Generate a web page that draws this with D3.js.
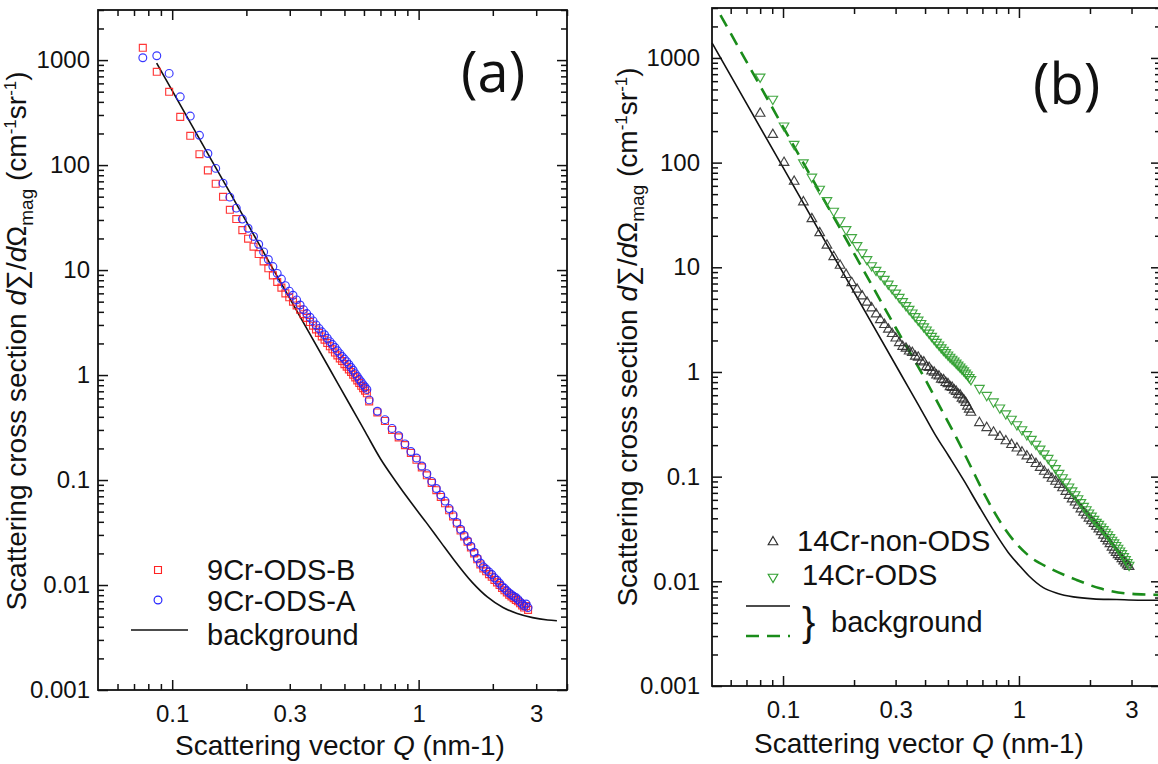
<!DOCTYPE html>
<html>
<head>
<meta charset="utf-8">
<script src="https://cdn.jsdelivr.net/npm/d3@7"></script>
<style>
  body { margin: 0; background: #fff; }
  svg { display: block; }
  text { font-family: "Liberation Sans", Arial, sans-serif; fill: #111; }
</style>
</head>
<body>
<div id="chart"></div>
<script>
// ---- panel (a): 9Cr ----
const qDense9 = [0.076, 0.0866, 0.0972, 0.1078, 0.1184, 0.129, 0.1396, 0.1502, 0.1608, 0.1714, 0.182, 0.1926, 0.2032, 0.2138, 0.2244, 0.235, 0.2456, 0.2562, 0.2668, 0.2774, 0.288, 0.2986, 0.3092, 0.3198, 0.3304, 0.341, 0.3516, 0.3622, 0.3728, 0.3834, 0.394, 0.4046, 0.4152, 0.4258, 0.4364, 0.447, 0.4576, 0.4682, 0.4788, 0.4894, 0.500, 0.5106, 0.5212, 0.5318, 0.5424, 0.553, 0.5636, 0.5742, 0.5848, 0.5954, 0.606, 0.6166];
const qSparse9 = [0.63, 0.68, 0.73, 0.78, 0.83, 0.88, 0.93, 0.98, 1.03, 1.08, 1.13, 1.18, 1.23, 1.28, 1.33, 1.38, 1.43, 1.48, 1.53, 1.58, 1.63, 1.68, 1.73, 1.78, 1.83, 1.88, 1.93, 1.98, 2.03, 2.08, 2.13, 2.18, 2.23, 2.28, 2.33, 2.38, 2.43, 2.48, 2.53, 2.58, 2.63, 2.68, 2.73, 2.78];

const odsBDense = [1310, 774, 499, 288, 190, 127, 89, 66.4, 49.9, 37.5, 30.6, 24.0, 19.9, 16.7, 14.2, 12.1, 10.4, 8.9, 7.7, 6.8, 6.0, 5.5, 5.0, 4.6, 4.2, 3.8, 3.5, 3.2, 2.95, 2.72, 2.52, 2.33, 2.17, 2.02, 1.88, 1.76, 1.64, 1.54, 1.44, 1.36, 1.27, 1.20, 1.13, 1.07, 1.01, 0.95, 0.89, 0.84, 0.79, 0.75, 0.71, 0.67];
const odsBSparse = [0.56, 0.44, 0.365, 0.300, 0.255, 0.215, 0.181, 0.156, 0.132, 0.111, 0.094, 0.080, 0.069, 0.060, 0.0515, 0.0450, 0.0385, 0.0330, 0.0290, 0.0258, 0.0228, 0.0200, 0.0176, 0.0157, 0.0144, 0.0135, 0.0127, 0.0120, 0.0112, 0.0106, 0.0100, 0.0094, 0.0089, 0.0085, 0.0081, 0.0078, 0.0075, 0.0072, 0.0070, 0.0067, 0.0064, 0.0061, 0.0063, 0.0058];

const odsADense = [1052, 1099, 747, 447, 293, 192, 129, 93, 67.3, 49.5, 38.9, 30.6, 25.0, 20.9, 17.6, 14.9, 12.6, 10.8, 9.3, 8.2, 7.1, 6.3, 5.75, 5.2, 4.65, 4.2, 3.85, 3.55, 3.28, 3.0, 2.78, 2.58, 2.42, 2.24, 2.08, 1.95, 1.83, 1.70, 1.60, 1.50, 1.42, 1.34, 1.26, 1.18, 1.11, 1.03, 0.97, 0.91, 0.86, 0.81, 0.77, 0.73];
const odsASparse = [0.58, 0.452, 0.376, 0.310, 0.264, 0.221, 0.187, 0.162, 0.136, 0.115, 0.097, 0.083, 0.072, 0.063, 0.0535, 0.0465, 0.0395, 0.0340, 0.0298, 0.0264, 0.0234, 0.0205, 0.0180, 0.0162, 0.0149, 0.0141, 0.0133, 0.0126, 0.0117, 0.0111, 0.0104, 0.0097, 0.0093, 0.0088, 0.0084, 0.0081, 0.0078, 0.0076, 0.0073, 0.0069, 0.0066, 0.0063, 0.0066, 0.0061];

const bg9Q = [0.0865, 0.12, 0.15, 0.20, 0.25, 0.30, 0.35, 0.435, 0.529, 0.609, 0.701, 0.808, 0.932, 1.073, 1.236, 1.38, 1.65, 1.90, 2.20, 2.51, 2.90, 3.34, 3.64];
const bg9I = [936, 240, 95.2, 28.9, 11.4, 5.37, 2.83, 1.148, 0.51, 0.284, 0.1586, 0.097, 0.061, 0.0395, 0.0252, 0.0178, 0.0106, 0.0077, 0.0061, 0.00535, 0.00489, 0.00465, 0.00457];

// ---- panel (b): 14Cr ----
const qDense14 = [0.080, 0.0905, 0.101, 0.1115, 0.122, 0.1325, 0.143, 0.1535, 0.164, 0.1745, 0.185, 0.1955, 0.206, 0.2165, 0.227, 0.2375, 0.248, 0.2585, 0.269, 0.2795, 0.290, 0.3005, 0.311, 0.3215, 0.332, 0.3425, 0.353, 0.3635, 0.374, 0.3845, 0.395, 0.4055, 0.416, 0.4265, 0.437, 0.4475, 0.458, 0.4685, 0.479, 0.4895, 0.500, 0.5105, 0.521, 0.5315, 0.542, 0.5525, 0.563, 0.5735, 0.584, 0.5945, 0.605, 0.6155, 0.626];
const qSparse14 = [0.68, 0.73, 0.78, 0.83, 0.88, 0.93, 0.98, 1.03, 1.08, 1.13, 1.18, 1.23, 1.28, 1.33, 1.38, 1.43, 1.48, 1.53, 1.58, 1.63, 1.68, 1.73, 1.78, 1.83, 1.88, 1.93, 1.98, 2.03, 2.08, 2.13, 2.18, 2.23, 2.28, 2.33, 2.38, 2.43, 2.48, 2.53, 2.58, 2.63, 2.68, 2.73, 2.78, 2.83, 2.88, 2.93];

const nonOdsDense = [295, 185, 100, 66, 42, 29, 21.3, 16.2, 12.6, 10.4, 8.5, 7.1, 6.15, 5.3, 4.62, 4.08, 3.57, 3.15, 2.83, 2.55, 2.32, 2.10, 1.90, 1.75, 1.68, 1.58, 1.53, 1.41, 1.38, 1.27, 1.24, 1.12, 1.10, 1.02, 0.99, 0.93, 0.91, 0.85, 0.84, 0.79, 0.77, 0.72, 0.71, 0.67, 0.65, 0.61, 0.60, 0.56, 0.54, 0.51, 0.47, 0.44, 0.41];
const nonOdsSparse = [0.327, 0.293, 0.265, 0.241, 0.219, 0.202, 0.187, 0.171, 0.157, 0.145, 0.133, 0.122, 0.112, 0.104, 0.096, 0.090, 0.084, 0.078, 0.072, 0.066, 0.061, 0.057, 0.053, 0.049, 0.0455, 0.0428, 0.0400, 0.0377, 0.0356, 0.0334, 0.0315, 0.0297, 0.0275, 0.0256, 0.0242, 0.0228, 0.0211, 0.0199, 0.0188, 0.0179, 0.0172, 0.0164, 0.0156, 0.0149, 0.0143, 0.0138];

const odsDense = [660, 405, 225, 150, 100, 73, 56, 43.5, 34.5, 28, 23, 19.3, 16.2, 13.8, 11.9, 10.4, 9.4, 8.55, 7.7, 6.95, 6.28, 5.70, 5.18, 4.72, 4.33, 3.98, 3.68, 3.40, 3.14, 2.92, 2.71, 2.53, 2.36, 2.20, 2.06, 1.93, 1.82, 1.71, 1.62, 1.54, 1.46, 1.39, 1.33, 1.28, 1.22, 1.17, 1.12, 1.07, 1.03, 0.98, 0.94, 0.89, 0.85];
const odsSparse = [0.70, 0.60, 0.52, 0.455, 0.40, 0.355, 0.315, 0.282, 0.253, 0.228, 0.205, 0.184, 0.166, 0.150, 0.135, 0.120, 0.108, 0.098, 0.089, 0.080, 0.0735, 0.0675, 0.0618, 0.0568, 0.0522, 0.0485, 0.0452, 0.0422, 0.0393, 0.0367, 0.0352, 0.0332, 0.0313, 0.0296, 0.0280, 0.0263, 0.0248, 0.0234, 0.0221, 0.0208, 0.0196, 0.0185, 0.0173, 0.0162, 0.0152, 0.0143];

const bg14SolidQ = [0.05, 0.10, 0.20, 0.3177, 0.38, 0.44, 0.506, 0.584, 0.674, 0.778, 0.899, 1.0, 1.1, 1.268, 1.45, 1.7, 2.065, 2.6, 3.2, 4.0];
const bg14SolidI = [1390, 90, 5.8, 0.93, 0.46, 0.255, 0.155, 0.092, 0.053, 0.031, 0.019, 0.0143, 0.0113, 0.0087, 0.0077, 0.0071, 0.0068, 0.0067, 0.0066, 0.0066];
const bg14DashQ = [0.0543, 0.10, 0.20, 0.30, 0.4006, 0.471, 0.5435, 0.627, 0.724, 0.836, 0.965, 1.113, 1.353, 1.756, 2.204, 2.86, 3.70, 4.0];
const bg14DashI = [2565, 220, 13.6, 2.66, 0.85, 0.43, 0.235, 0.123, 0.064, 0.0365, 0.0235, 0.0172, 0.0133, 0.0103, 0.00857, 0.00766, 0.00745, 0.0074];

// ---- shared axes ----
const qDomain = [0.05, 4];
const iDomain = [0.001, 3000];
const xTickLabels = [0.1, 0.3, 1, 3];
const yTickLabels = [0.001, 0.01, 0.1, 1, 10, 100, 1000];

const W = 1158, H = 764;
const svg = d3.select("#chart").append("svg").attr("width", W).attr("height", H);

const pts = (qs, vs) => qs.map((q, i) => ({ q, v: vs[i] }));
const isMajor = (d) => Math.abs(Math.log10(d) - Math.round(Math.log10(d))) < 1e-6;

const RED = "#f22", BLUE = "#22f", GREY = "#2c2c2c", GREEN = "#2f9f2f", DGREEN = "#1a8c1a";

const symSquare = d3.symbol().type(d3.symbolSquare).size(48);
const symCircle = d3.symbol().type(d3.symbolCircle).size(48);
const symTri = d3.symbol().type(d3.symbolTriangle).size(40);

function markerPath(kind) {
  if (kind === "square") return { d: symSquare(), rot: 0 };
  if (kind === "circle") return { d: symCircle(), rot: 0 };
  if (kind === "up") return { d: symTri(), rot: 0 };
  return { d: symTri(), rot: 180 };
}

function drawPanel(cfg) {
  const x = d3.scaleLog().domain(qDomain).range([cfg.left, cfg.right]);
  const y = d3.scaleLog().domain(iDomain).range([cfg.bottom, cfg.top]);
  const g = svg.append("g");

  // curves
  const line = d3.line().x((d) => x(d.q)).y((d) => y(d.v)).curve(d3.curveMonotoneX);
  cfg.lines.forEach((l) => {
    g.append("path")
      .attr("d", line(pts(l.q, l.v)))
      .attr("fill", "none")
      .attr("stroke", l.color)
      .attr("stroke-width", l.width)
      .attr("stroke-dasharray", l.dash || null);
  });

  // markers
  cfg.series.forEach((s) => {
    const m = markerPath(s.marker);
    g.append("g")
      .selectAll("path")
      .data(pts(s.q, s.v))
      .join("path")
      .attr("d", m.d)
      .attr("transform", (d) => `translate(${x(d.q)},${y(d.v)}) rotate(${m.rot})`)
      .attr("fill", "none")
      .attr("stroke", s.color)
      .attr("stroke-width", 1.15)
      .attr("opacity", 0.9);
  });

  // ticks on all four sides, pointing inward
  const sides = [
    { ax: d3.axisBottom(x), tr: `translate(0,${cfg.bottom})`, vals: x.ticks(), dim: "y2", sign: -1 },
    { ax: d3.axisTop(x), tr: `translate(0,${cfg.top})`, vals: x.ticks(), dim: "y2", sign: 1 },
    { ax: d3.axisLeft(y), tr: `translate(${cfg.left},0)`, vals: y.ticks(), dim: "x2", sign: 1 },
    { ax: d3.axisRight(y), tr: `translate(${cfg.right},0)`, vals: y.ticks(), dim: "x2", sign: -1 },
  ];
  sides.forEach((s) => {
    const a = g.append("g").attr("transform", s.tr)
      .call(s.ax.tickValues(s.vals.filter((v) => s.dim === "x2" || v > qDomain[0] * 1.001))
        .tickSizeInner(6).tickSizeOuter(0).tickFormat(""));
    a.select(".domain").remove();
    a.selectAll(".tick line")
      .attr(s.dim, (d) => (isMajor(d) ? 10 : 6) * s.sign)
      .attr("stroke", "#111")
      .attr("stroke-width", 1.5);
  });

  // frame
  g.append("rect")
    .attr("x", cfg.left).attr("y", cfg.top)
    .attr("width", cfg.right - cfg.left).attr("height", cfg.bottom - cfg.top)
    .attr("fill", "none").attr("stroke", "#111").attr("stroke-width", 1.8);

  // tick labels
  const xl = g.append("g").attr("transform", `translate(0,${cfg.bottom})`)
    .call(d3.axisBottom(x).tickValues(xTickLabels).tickSize(0).tickPadding(15).tickFormat(d3.format("~g")));
  xl.select(".domain").remove();
  xl.selectAll("text").style("font-size", "24px").attr("fill", "#111");

  const yl = g.append("g").attr("transform", `translate(${cfg.left},0)`)
    .call(d3.axisLeft(y).tickValues(yTickLabels).tickSize(0).tickPadding(cfg.yPad).tickFormat(d3.format("~g")));
  yl.select(".domain").remove();
  yl.selectAll("text").style("font-size", "24px").attr("fill", "#111");

  // axis titles
  const xt = g.append("text")
    .attr("x", cfg.xTitle[0]).attr("y", cfg.xTitle[1])
    .attr("text-anchor", "middle").style("font-size", "28px");
  xt.append("tspan").text("Scattering vector ");
  xt.append("tspan").style("font-style", "italic").text("Q");
  xt.append("tspan").text(" (nm-1)");

  const yt = g.append("text")
    .attr("transform", `translate(${cfg.yTitle[0]},${cfg.yTitle[1]}) rotate(-90)`)
    .attr("text-anchor", "middle").style("font-size", "28px");
  yt.append("tspan").text("Scattering cross section ");
  yt.append("tspan").style("font-style", "italic").text("d");
  yt.append("tspan").text("\u2211/");
  yt.append("tspan").style("font-style", "italic").text("d");
  yt.append("tspan").text("\u03A9");
  yt.append("tspan").attr("dy", 7).style("font-size", "19px").text("mag");
  yt.append("tspan").attr("dy", -7).text("  (cm");
  yt.append("tspan").attr("dy", -10).style("font-size", "17px").text("-1");
  yt.append("tspan").attr("dy", 10).text("sr");
  yt.append("tspan").attr("dy", -10).style("font-size", "17px").text("-1");
  yt.append("tspan").attr("dy", 10).text(")");

  // panel letter
  g.append("text").attr("x", cfg.letter[0]).attr("y", cfg.letter[1])
    .style("font-family", "'Open Sans', sans-serif").style("font-size", "56px").text(cfg.letter[2]);

  // legend
  const lg = g.append("g");
  cfg.legend.forEach((it) => {
    if (it.marker) {
      const m = markerPath(it.marker);
      lg.append("path").attr("d", m.d)
        .attr("transform", `translate(${it.mx},${it.my}) rotate(${m.rot})`)
        .attr("fill", "none").attr("stroke", it.color).attr("stroke-width", 1.15);
    }
    if (it.line) {
      lg.append("line").attr("x1", it.line[0]).attr("x2", it.line[1])
        .attr("y1", it.line[2]).attr("y2", it.line[2])
        .attr("stroke", it.color).attr("stroke-width", it.width)
        .attr("stroke-dasharray", it.dash || null);
    }
    if (it.text) {
      lg.append("text").attr("x", it.tx).attr("y", it.ty)
        .style("font-size", it.size || "29px").text(it.text);
    }
  });
}

drawPanel({
  left: 98, right: 567, top: 10, bottom: 690, yPad: 8,
  xTitle: [340, 755], yTitle: [26, 341],
  letter: [461, 92, "(a)"],
  lines: [{ q: bg9Q, v: bg9I, color: "#111", width: 1.6 }],
  series: [
    { q: qDense9, v: odsBDense, marker: "square", color: RED },
    { q: qSparse9, v: odsBSparse, marker: "square", color: RED },
    { q: qDense9, v: odsADense, marker: "circle", color: BLUE },
    { q: qSparse9, v: odsASparse, marker: "circle", color: BLUE },
  ],
  legend: [
    { marker: "square", color: RED, mx: 158, my: 570, text: "9Cr-ODS-B", tx: 207, ty: 580 },
    { marker: "circle", color: BLUE, mx: 158, my: 600, text: "9Cr-ODS-A", tx: 207, ty: 611 },
    { line: [131, 188, 630], color: "#111", width: 1.6, text: "background", tx: 207, ty: 645 },
  ],
});

drawPanel({
  left: 712, right: 1161, top: 8, bottom: 686, yPad: 12,
  xTitle: [919, 753], yTitle: [637, 337],
  letter: [1033, 104, "(b)"],
  lines: [
    { q: bg14SolidQ, v: bg14SolidI, color: "#111", width: 1.6 },
    { q: bg14DashQ, v: bg14DashI, color: DGREEN, width: 2.6, dash: "13,8" },
  ],
  series: [
    { q: qDense14, v: nonOdsDense, marker: "up", color: GREY },
    { q: qSparse14, v: nonOdsSparse, marker: "up", color: GREY },
    { q: qDense14, v: odsDense, marker: "down", color: GREEN },
    { q: qSparse14, v: odsSparse, marker: "down", color: GREEN },
  ],
  legend: [
    { marker: "up", color: GREY, mx: 773, my: 542, text: "14Cr-non-ODS", tx: 797, ty: 551 },
    { marker: "down", color: GREEN, mx: 773, my: 577, text: "14Cr-ODS", tx: 802, ty: 585 },
    { line: [746, 790, 606], color: "#111", width: 1.6 },
    { line: [746, 790, 636], color: DGREEN, width: 2.6, dash: "13,8" },
    { text: "}", tx: 802, ty: 636, size: "40px" },
    { text: "background", tx: 831, ty: 632 },
  ],
});
</script>
</body>
</html>
